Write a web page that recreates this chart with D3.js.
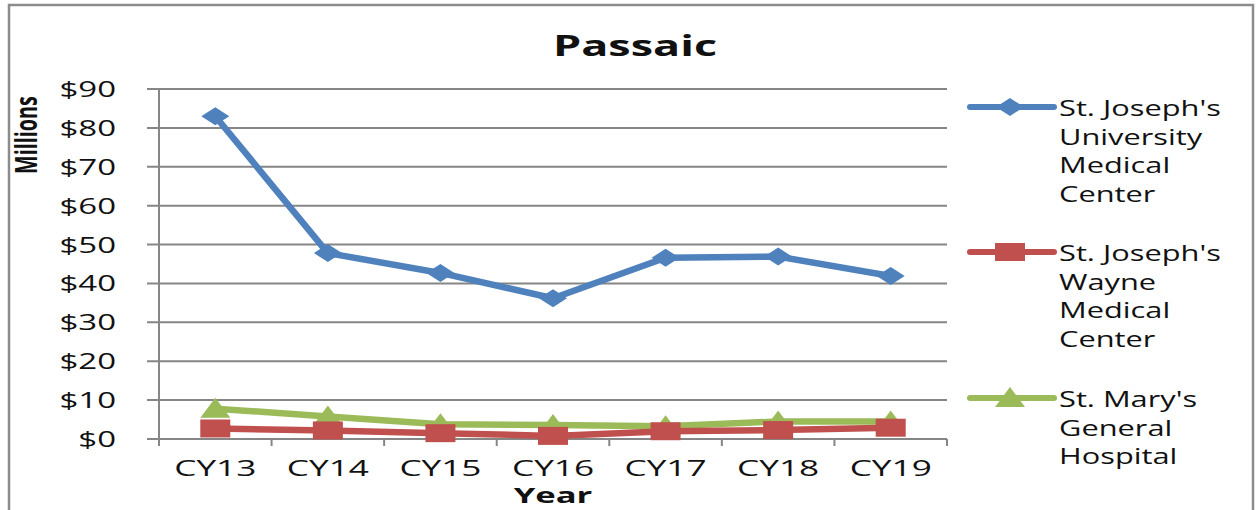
<!DOCTYPE html>
<html>
<head>
<meta charset="utf-8">
<script src="https://cdn.jsdelivr.net/npm/d3@7"></script>
<style>
  body { margin: 0; background: #fff; }
  svg text { font-family: "Open Sans", "DejaVu Sans", sans-serif; fill: #111; }
</style>
</head>
<body>
<div id="chart"></div>
<script>
// data
const years = ["CY13", "CY14", "CY15", "CY16", "CY17", "CY18", "CY19"];
const univValues = [83.0, 47.8, 42.7, 36.2, 46.6, 46.9, 41.9];
const wayneValues = [2.7, 2.2, 1.5, 0.8, 2.0, 2.3, 2.9];
const maryValues = [7.8, 5.8, 3.8, 3.6, 3.3, 4.5, 4.5];
const yTicks = [0, 10, 20, 30, 40, 50, 60, 70, 80, 90];

const series = [
    { name: ["St. Joseph's", "University", "Medical", "Center"], values: univValues, color: "#4F81BD", shape: "diamond" },
    { name: ["St. Joseph's", "Wayne", "Medical", "Center"], values: wayneValues, color: "#C0504D", shape: "square" },
    { name: ["St. Mary's", "General", "Hospital"], values: maryValues, color: "#9BBB59", shape: "triangle" }
];

const width = 1256, height = 510;
const margin = { left: 159, right: 309, top: 89, bottom: 71 };

const svg = d3.select("#chart").append("svg")
    .attr("width", width)
    .attr("height", height);

// outer frame
svg.append("rect")
    .attr("x", 9).attr("y", 5)
    .attr("width", 1244).attr("height", 520)
    .attr("fill", "none")
    .attr("stroke", "#8c8c8c")
    .attr("stroke-width", 2.5);

const x = d3.scaleBand()
    .domain(years)
    .range([margin.left, width - margin.right]);

const y = d3.scaleLinear()
    .domain([0, 90])
    .range([height - margin.bottom, margin.top]);

// the reference text is stretched sideways, so each text gets an x scale
function stretchedText(g, tx, ty, str, size, anchor, sx, weight) {
    return g.append("text")
        .attr("transform", `translate(${tx},${ty}) scale(${sx},1)`)
        .attr("text-anchor", anchor)
        .attr("font-size", size)
        .attr("font-weight", weight || "normal")
        .text(str);
}

// gridlines + y tick labels
const yAxis = svg.append("g");
yTicks.forEach(t => {
    yAxis.append("line")
        .attr("x1", margin.left - 12).attr("x2", width - margin.right)
        .attr("y1", y(t)).attr("y2", y(t))
        .attr("stroke", "#868686").attr("stroke-width", 2);
    stretchedText(yAxis, 116, y(t) + 8, "$" + t, 22, "end", 1.5);
});

// y axis line
svg.append("line")
    .attr("x1", margin.left).attr("x2", margin.left)
    .attr("y1", y(90)).attr("y2", y(0) + 6)
    .attr("stroke", "#868686").attr("stroke-width", 2);

// x axis ticks + labels
const xAxis = svg.append("g");
years.forEach((d, i) => {
    xAxis.append("line")
        .attr("x1", x(d)).attr("x2", x(d))
        .attr("y1", y(0)).attr("y2", y(0) + 7)
        .attr("stroke", "#868686").attr("stroke-width", 2);
    stretchedText(xAxis, x(d) + x.bandwidth() / 2, 476, d, 22, "middle", 1.6);
});
xAxis.append("line")
    .attr("x1", width - margin.right).attr("x2", width - margin.right)
    .attr("y1", y(0)).attr("y2", y(0) + 7)
    .attr("stroke", "#868686").attr("stroke-width", 2);

// titles
stretchedText(svg, 635, 56, "Passaic", 29, "middle", 1.55, "bold");
stretchedText(svg, 553, 503, "Year", 21, "middle", 1.65, "bold");
svg.append("text")
    .attr("transform", "translate(37,135) rotate(-90) scale(0.76,1.2)")
    .attr("text-anchor", "middle")
    .attr("font-size", 26)
    .attr("font-weight", "bold")
    .attr("font-family", "Liberation Sans Narrow, Liberation Sans, sans-serif")
    .text("Millions");

// flat, wide markers like the reference (w x h in px)
const shapes = {
    diamond: { w: 28, h: 18, draw: (c, w, h) => { c.moveTo(0, -h / 2); c.lineTo(w / 2, 0); c.lineTo(0, h / 2); c.lineTo(-w / 2, 0); c.closePath(); } },
    square: { w: 30, h: 18, draw: (c, w, h) => { c.rect(-w / 2, -h / 2, w, h); } },
    triangle: { w: 30, h: 18, draw: (c, w, h) => { c.moveTo(0, -h / 2 - 2); c.lineTo(w / 2, h / 2); c.lineTo(-w / 2, h / 2); c.closePath(); } }
};

function marker(g, s, px, py) {
    const sh = shapes[s.shape];
    const sym = d3.symbol().type({ draw: c => sh.draw(c, sh.w, sh.h) });
    g.append("path")
        .attr("d", sym())
        .attr("transform", `translate(${px},${py})`)
        .attr("fill", s.color);
}

const line = d3.line()
    .x((v, i) => x(years[i]) + x.bandwidth() / 2)
    .y(v => y(v));

// draw in reverse so the blue sits on top like in Excel
series.slice().reverse().forEach(s => {
    const g = svg.append("g");
    g.append("path")
        .datum(s.values)
        .attr("d", line)
        .attr("fill", "none")
        .attr("stroke", s.color)
        .attr("stroke-width", 6.5)
        .attr("stroke-linejoin", "round");
    s.values.forEach((v, i) => marker(g, s, x(years[i]) + x.bandwidth() / 2, y(v)));
});

// legend
const legendY = [107, 252, 398];
series.forEach((s, k) => {
    const g = svg.append("g");
    g.append("line")
        .attr("x1", 970).attr("x2", 1054)
        .attr("y1", legendY[k]).attr("y2", legendY[k])
        .attr("stroke", s.color).attr("stroke-width", 6)
        .attr("stroke-linecap", "round");
    marker(g, s, 1010, legendY[k]);
    s.name.forEach((t, j) => {
        stretchedText(g, 1059, legendY[k] + 9 + j * 28.5, t, 22, "start", 1.4);
    });
});
</script>
</body>
</html>
